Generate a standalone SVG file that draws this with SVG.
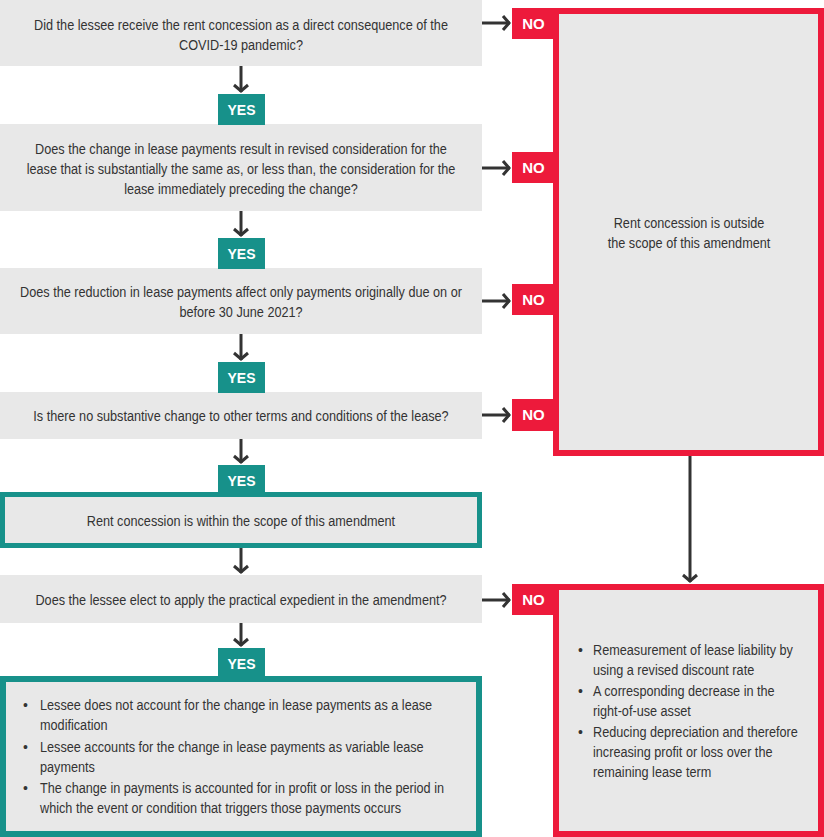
<svg xmlns="http://www.w3.org/2000/svg" width="824" height="837" viewBox="0 0 824 837">
<style>
.q{fill:#e8e8e8}
.t{font-family:"Liberation Sans",Arial,sans-serif;font-size:14px;fill:#333}
.yes{fill:#17918a}
.no{fill:#ed1a3b}
.lab{font-family:"Liberation Sans",Arial,sans-serif;font-size:14px;font-weight:bold;fill:#fff;text-anchor:middle}
.nl{font-size:15px}
.c{text-anchor:middle}
.rb{fill:#e8e8e8;stroke:#ed1a3b;stroke-width:6}
.tb{fill:#e8e8e8;stroke:#17918a}
.ar{stroke:#333;stroke-width:3;fill:none;marker-end:url(#ah)}
</style>
<defs>
<marker id="ah" viewBox="-10 -10 20 20" markerWidth="20" markerHeight="20" refX="0" refY="0" orient="auto" markerUnits="userSpaceOnUse">
<path d="M-7,-7 L-1,0 L-7,7" fill="none" stroke="#333" stroke-width="3"/>
</marker>
</defs>

<g id="outside">
<rect class="rb" x="556" y="11" width="265" height="442"/>
<text class="t c" transform="translate(689,228) scale(0.905,1)"><tspan x="0">Rent concession is outside</tspan><tspan x="0" dy="20">the scope of this amendment</tspan></text>
</g>

<g id="remeasure">
<rect class="rb" x="556" y="587" width="265" height="247"/>
<g class="t">
<text x="578" y="655">•</text>
<text x="578" y="696">•</text>
<text x="578" y="737">•</text>
<text transform="translate(593,655) scale(0.905,1)"><tspan x="0">Remeasurement of lease liability by</tspan><tspan x="0" dy="20">using a revised discount rate</tspan></text>
<text transform="translate(593,696) scale(0.905,1)"><tspan x="0">A corresponding decrease in the</tspan><tspan x="0" dy="20">right-of-use asset</tspan></text>
<text transform="translate(593,737) scale(0.905,1)"><tspan x="0">Reducing depreciation and therefore</tspan><tspan x="0" dy="20">increasing profit or loss over the</tspan><tspan x="0" dy="20">remaining lease term</tspan></text>
</g>
</g>

<g id="q1">
<rect class="q" x="0" y="0" width="482" height="66"/>
<text class="t c" transform="translate(241,30) scale(0.905,1)"><tspan x="0">Did the lessee receive the rent concession as a direct consequence of the</tspan><tspan x="0" dy="20">COVID-19 pandemic?</tspan></text>
</g>
<g id="q2">
<rect class="q" x="0" y="124" width="482" height="87"/>
<text class="t c" transform="translate(241,154) scale(0.905,1)"><tspan x="0">Does the change in lease payments result in revised consideration for the</tspan><tspan x="0" dy="20">lease that is substantially the same as, or less than, the consideration for the</tspan><tspan x="0" dy="20">lease immediately preceding the change?</tspan></text>
</g>
<g id="q3">
<rect class="q" x="0" y="268" width="482" height="66"/>
<text class="t c" transform="translate(241,297) scale(0.905,1)"><tspan x="0">Does the reduction in lease payments affect only payments originally due on or</tspan><tspan x="0" dy="20">before 30 June 2021?</tspan></text>
</g>
<g id="q4">
<rect class="q" x="0" y="392" width="482" height="47"/>
<text class="t c" transform="translate(241,421) scale(0.905,1)">Is there no substantive change to other terms and conditions of the lease?</text>
</g>
<g id="within">
<rect class="tb" x="2.5" y="494.5" width="477" height="51" stroke-width="5"/>
<text class="t c" transform="translate(241,526) scale(0.905,1)">Rent concession is within the scope of this amendment</text>
</g>
<g id="q5">
<rect class="q" x="0" y="575" width="482" height="48"/>
<text class="t c" transform="translate(241,605) scale(0.905,1)">Does the lessee elect to apply the practical expedient in the amendment?</text>
</g>
<g id="expedient">
<rect class="tb" x="3" y="679" width="476" height="155" stroke-width="6"/>
<g class="t">
<text x="23" y="710">•</text>
<text x="23" y="752">•</text>
<text x="23" y="793">•</text>
<text transform="translate(40,710) scale(0.905,1)"><tspan x="0">Lessee does not account for the change in lease payments as a lease</tspan><tspan x="0" dy="20">modification</tspan></text>
<text transform="translate(40,752) scale(0.905,1)"><tspan x="0">Lessee accounts for the change in lease payments as variable lease</tspan><tspan x="0" dy="20">payments</tspan></text>
<text transform="translate(40,793) scale(0.905,1)"><tspan x="0">The change in payments is accounted for in profit or loss in the period in</tspan><tspan x="0" dy="20">which the event or condition that triggers those payments occurs</tspan></text>
</g>
</g>

<g id="labels">
<g id="yes1"><rect class="yes" x="218" y="94" width="47" height="31"/><text class="lab" x="241.5" y="115">YES</text></g>
<g id="yes2"><rect class="yes" x="218" y="238" width="47" height="31"/><text class="lab" x="241.5" y="259">YES</text></g>
<g id="yes3"><rect class="yes" x="218" y="362" width="47" height="31"/><text class="lab" x="241.5" y="383">YES</text></g>
<g id="yes4"><rect class="yes" x="218" y="465" width="47" height="28"/><text class="lab" x="241.5" y="486">YES</text></g>
<g id="yes5"><rect class="yes" x="218" y="648" width="47" height="31"/><text class="lab" x="241.5" y="669">YES</text></g>
<g id="no1"><rect class="no" x="512" y="8" width="44" height="31"/><text class="lab nl" x="533.5" y="29">NO</text></g>
<g id="no2"><rect class="no" x="512" y="152" width="44" height="31"/><text class="lab nl" x="533.5" y="173">NO</text></g>
<g id="no3"><rect class="no" x="512" y="284" width="44" height="31"/><text class="lab nl" x="533.5" y="305">NO</text></g>
<g id="no4"><rect class="no" x="512" y="399" width="44" height="32"/><text class="lab nl" x="533.5" y="420">NO</text></g>
<g id="no5"><rect class="no" x="512" y="584" width="44" height="31"/><text class="lab nl" x="533.5" y="605">NO</text></g>
</g>

<g id="connectors">
<line class="ar" x1="241" y1="66" x2="241" y2="92"/>
<line class="ar" x1="241" y1="211" x2="241" y2="236"/>
<line class="ar" x1="241" y1="334" x2="241" y2="360"/>
<line class="ar" x1="241" y1="439" x2="241" y2="463"/>
<line class="ar" x1="241" y1="548" x2="241" y2="573"/>
<line class="ar" x1="241" y1="623" x2="241" y2="646"/>
<line class="ar" x1="482" y1="23" x2="510" y2="23"/>
<line class="ar" x1="482" y1="168" x2="510" y2="168"/>
<line class="ar" x1="482" y1="301" x2="510" y2="301"/>
<line class="ar" x1="482" y1="415" x2="510" y2="415"/>
<line class="ar" x1="482" y1="600" x2="510" y2="600"/>
<line class="ar" x1="690" y1="456" x2="690" y2="582"/>
</g>
</svg>
